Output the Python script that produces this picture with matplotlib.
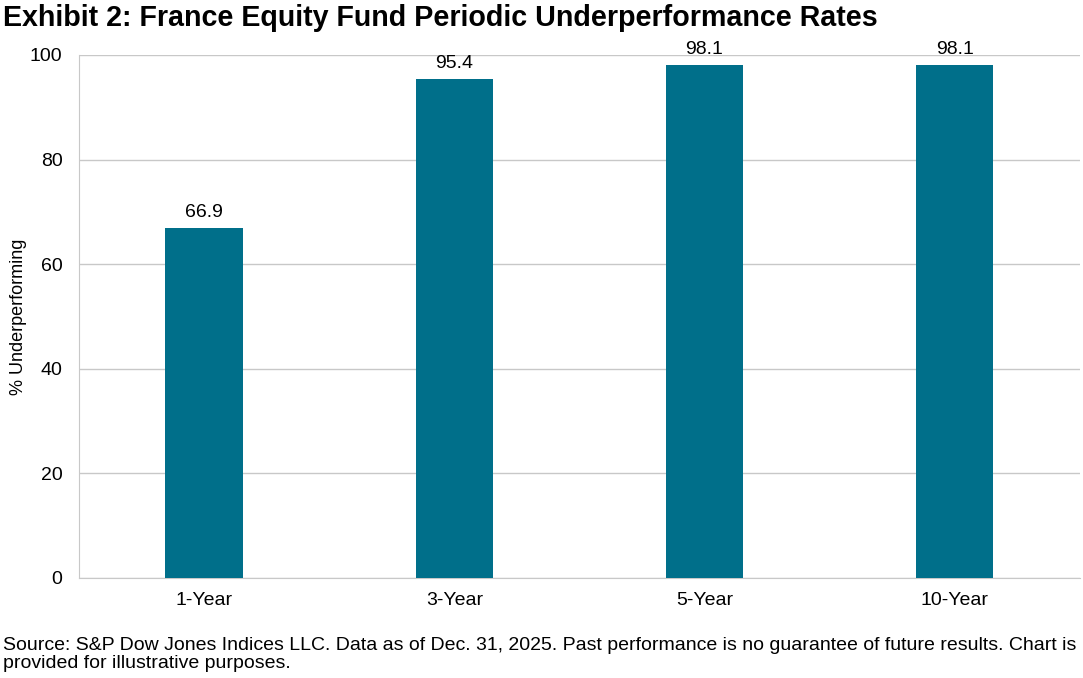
import matplotlib.pyplot as plt
import numpy as np

plt.rcParams['font.family'] = ['Liberation Sans', 'DejaVu Sans']

periods = ['1-Year', '3-Year', '5-Year', '10-Year']
underperf = [66.9, 95.4, 98.1, 98.1]
yticks = [0, 20, 40, 60, 80, 100]

bar_color = '#006F8A'
grid_color = '#C8C8C8'

fig = plt.figure(figsize=(10.83, 6.78), dpi=100)
ax = fig.add_axes([0.073, 0.1475, 0.924, 0.7715])

x = np.arange(len(periods))
bars = ax.bar(x, underperf, width=0.31, color=bar_color, zorder=3)
for b, v in zip(bars, underperf):
    ax.annotate(f'{v:.1f}', (b.get_x() + b.get_width() / 2, v),
                xytext=(0, 5), textcoords='offset points',
                ha='center', va='bottom', fontsize=14)

ax.set_xlim(-0.5, len(periods) - 0.5)
ax.set_ylim(0, 100)
ax.set_xticks(x)
ax.set_xticklabels(periods, fontsize=14)
ax.set_yticks(yticks)
ax.set_yticklabels([str(t) for t in yticks], fontsize=14)
ax.tick_params(axis='x', length=0, pad=10)
ax.tick_params(axis='y', length=0, pad=12)
ax.set_ylabel('% Underperforming', fontsize=13)
ax.yaxis.set_label_coords(-0.052, 0.5)

ax.grid(axis='y', color=grid_color, linewidth=1, zorder=0)
for s in ['top', 'right']:
    ax.spines[s].set_visible(False)
ax.spines['left'].set_color(grid_color)
ax.spines['bottom'].set_color(grid_color)

fig.text(0.003, 0.973, 'Exhibit 2: France Equity Fund Periodic Underperformance Rates',
         fontsize=20.6, fontweight='bold', ha='left', va='center')
fig.text(0.003, 0.0345,
         'Source: S&P Dow Jones Indices LLC. Data as of Dec. 31, 2025. Past performance is no guarantee of future results. Chart is\n'
         'provided for illustrative purposes.',
         fontsize=14, ha='left', va='center', linespacing=1.12)

fig.savefig('out.png', dpi=100)
